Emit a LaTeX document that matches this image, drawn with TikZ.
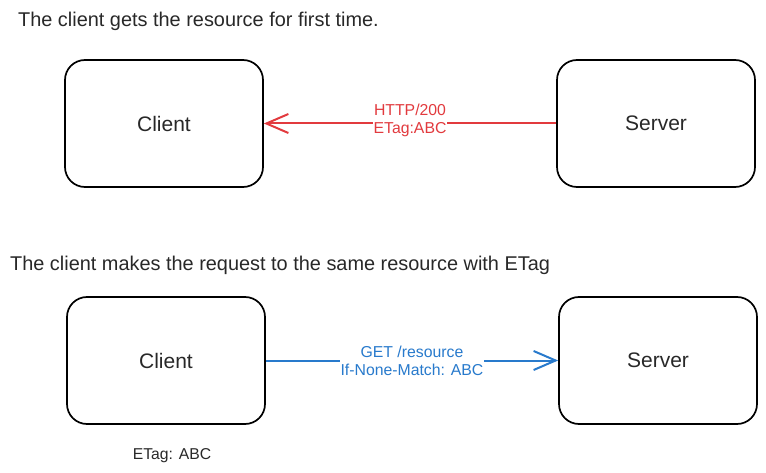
\documentclass[tikz,border=0pt]{standalone}
\usepackage{fontspec}
\setmainfont{Liberation Sans}
\usetikzlibrary{arrows.meta}
\definecolor{resred}{RGB}{226,58,62}
\definecolor{reqblue}{RGB}{40,122,204}
\definecolor{textgray}{RGB}{40,40,40}
\begin{document}
\begin{tikzpicture}[x=1pt,y=-1pt,
  box node/.style={draw,rounded corners=20pt,line width=1.7pt,minimum width=198pt,minimum height=127pt,text=textgray,font=\fontsize{21}{24}\selectfont},
  msg node/.style={font=\fontsize{15.8}{18}\selectfont,align=center,fill=white,inner sep=1pt},
  title node/.style={anchor=base west,inner sep=0pt,text=textgray,font=\fontsize{19.9}{23}\selectfont}]

  \useasboundingbox (0,0) rectangle (766,473);

  % first request
  \node[title node] (t1) at (18,27){The client gets the resource for first time.};
  \node[box node] (c1) at (164,123.5){Client};
  \node[box node] (s1) at (656,123.5){Server};

  % second request
  \node[title node] (t2) at (10,270){The client makes the request to the same resource with ETag};
  \node[box node] (c2) at (166,360.5){Client};
  \node[box node] (s2) at (658,360.5){Server};
  \node[font=\fontsize{15.7}{18}\selectfont,text=textgray,anchor=base] (e2) at (172,459){ETag: ABC};

  \path[line width=2pt,every node/.style={msg node,yshift=3pt}]
    (s1) edge[resred,-{Straight Barb[length=22pt,width=19pt,line width=2pt]}] node[text=resred]{HTTP/200\\ETag:ABC} (c1)
    (c2) edge[reqblue,-{Straight Barb[length=22pt,width=19pt,line width=2pt]}] node[text=reqblue,yshift=-3pt]{GET /resource\\If-None-Match: ABC} (s2);
\end{tikzpicture}
\end{document}
